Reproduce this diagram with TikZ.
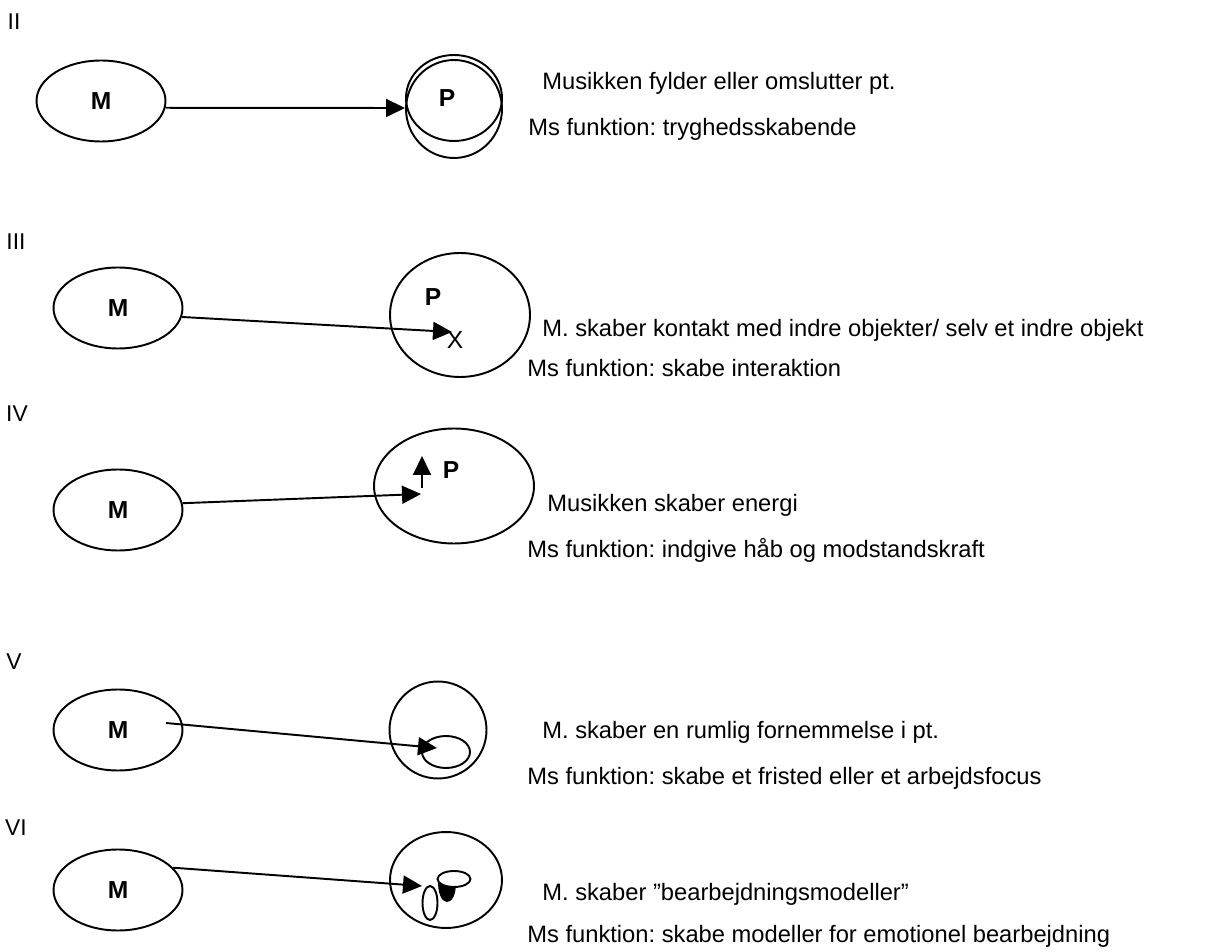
\documentclass[tikz,border=0pt]{standalone}
\usepackage{fontspec}
\setmainfont{Liberation Sans}
\usetikzlibrary{arrows.meta,shapes.geometric}
\frenchspacing
\newcommand{\notefont}{\fontsize{13.5}{16}\selectfont}
\tikzset{
  mnode/.style={draw,ellipse,line width=1.1pt,minimum width=2.58cm,minimum height=1.62cm,
    inner sep=0pt,font=\fontsize{14}{16}\selectfont\bfseries},
  pnode/.style={draw,ellipse,line width=1.1pt,inner sep=0pt},
  plabel/.style={font=\fontsize{14}{16}\selectfont\bfseries,inner sep=0pt},
  rownum/.style={font=\fontsize{13}{15}\selectfont,inner sep=0pt},
  note/.style={font=\notefont,anchor=base west,inner sep=0pt},
  link/.style={line width=1.1pt,-{Triangle[length=3.8mm,width=3.6mm]}}
}
\begin{document}
\begin{tikzpicture}[x=0.02cm,y=-0.02cm]
  \useasboundingbox (0,0) rectangle (1224,952);
  % II
  \node[rownum] (nII) at (14,22) {II};
  \node[mnode] (mII) at (101,101) {M};
  \node[pnode,minimum width=1.92cm,minimum height=1.72cm] (pII) at (454,98) {};
  \node[pnode,minimum width=1.92cm,minimum height=1.96cm] (pIIb) at (454,109) {};
  \node[plabel] (pIIl) at (447,98) {P};
  \coordinate (tII) at (405,108);
  \draw[link] (mII.-6) -- (tII);
  \node[note] (aII) at (542,90) {Musikken fylder eller omslutter pt.};
  \node[note] (bII) at (528,136) {Ms funktion: tryghedsskabende};
  % III
  \node[rownum] (nIII) at (16,242) {III};
  \node[mnode] (mIII) at (118,308) {M};
  \node[pnode,minimum width=2.8cm,minimum height=2.48cm] (pIII) at (460,315) {};
  \node[plabel] (pIIIl) at (433,297) {P};
  \node[font=\fontsize{14}{16}\selectfont,inner sep=0pt] (xIII) at (455,340) {X};
  \coordinate (tIII) at (452,332);
  \draw[link] (mIII.-8) -- (tIII);
  \node[note] (aIII) at (542,337) {M. skaber kontakt med indre objekter/ selv et indre objekt};
  \node[note] (bIII) at (527,377) {Ms funktion: skabe interaktion};
  % IV
  \node[rownum] (nIV) at (17,414) {IV};
  \node[mnode] (mIV) at (118,510) {M};
  \node[pnode,minimum width=3.2cm,minimum height=2.3cm] (pIV) at (454,486) {};
  \node[plabel] (pIVl) at (451,470) {P};
  \coordinate (tIV) at (421,494);
  \coordinate (uIV) at (422,488);
  \coordinate (vIV) at (422,456);
  \draw[link] (mIV.6) -- (tIV);
  \draw[link] (uIV) -- (vIV);
  \node[note] (aIV) at (547,512) {Musikken skaber energi};
  \node[note] (bIV) at (527,558) {Ms funktion: indgive håb og modstandskraft};
  % V
  \node[rownum] (nV) at (14,662) {V};
  \node[mnode] (mV) at (118,730) {M};
  \node[pnode,minimum width=1.94cm,minimum height=1.94cm] (pV) at (438,730) {};
  \node[pnode,minimum width=0.96cm,minimum height=0.64cm] (qV) at (446,752) {};
  \coordinate (sV) at (166,723);
  \coordinate (tV) at (437,748);
  \draw[link] (sV) -- (tV);
  \node[note] (aV) at (542,738) {M. skaber en rumlig fornemmelse i pt.};
  \node[note] (bV) at (527,784) {Ms funktion: skabe et fristed eller et arbejdsfocus};
  % VI
  \node[rownum] (nVI) at (16,828) {VI};
  \node[mnode] (mVI) at (118,890) {M};
  \node[pnode,minimum width=2.24cm,minimum height=1.92cm] (pVI) at (446,880) {};
  \node[pnode,minimum width=0.3cm,minimum height=0.68cm] (qVI) at (430,903) {};
  \fill (438,879) .. controls (437,909) and (456,909) .. (456,883) -- cycle;
  \node[pnode,fill=white,minimum width=0.66cm,minimum height=0.32cm] (rVI) at (454,879) {};
  \coordinate (tVI) at (422,886);
  \draw[link] (mVI.22) -- (tVI);
  \node[note] (aVI) at (542,900) {M. skaber \textquotedblright bearbejdningsmodeller\textquotedblright};
  \node[note] (bVI) at (527,942) {Ms funktion: skabe modeller for emotionel bearbejdning};
\end{tikzpicture}
\end{document}
